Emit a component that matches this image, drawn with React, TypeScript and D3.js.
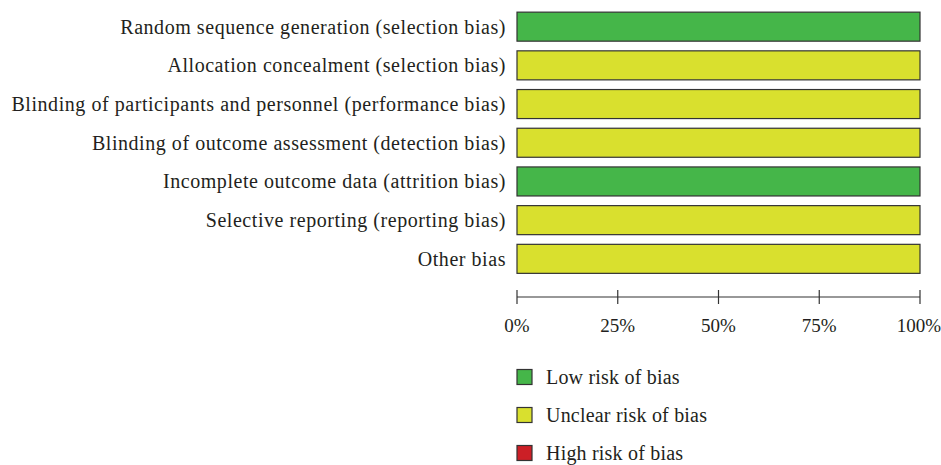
import React from "react";
import * as d3 from "d3";

const domains = [
  "Random sequence generation (selection bias)",
  "Allocation concealment (selection bias)",
  "Blinding of participants and personnel (performance bias)",
  "Blinding of outcome assessment (detection bias)",
  "Incomplete outcome data (attrition bias)",
  "Selective reporting (reporting bias)",
  "Other bias",
];
const lowRisk = [100, 0, 0, 0, 100, 0, 0];
const unclearRisk = [0, 100, 100, 100, 0, 100, 100];
const highRisk = [0, 0, 0, 0, 0, 0, 0];
const tickValues = [0, 25, 50, 75, 100];
const legendLabels = ["Low risk of bias", "Unclear risk of bias", "High risk of bias"];
const colors = ["#45b649", "#d9e02e", "#cc1f26"];

export default function App() {
  const W = 941, H = 465;
  const x = d3.scaleLinear().domain([0, 100]).range([517, 920]);
  const y = d3.scaleBand().domain(domains).range([7.5, 278]).paddingInner(0.25).paddingOuter(0.12);
  const font = "'Liberation Serif', serif";
  const textColor = "#231f20";
  const series = [lowRisk, unclearRisk, highRisk];
  const axisY = 297;
  const fs = 20;
  const ls = 0.55;

  return (
    <svg width={W} height={H} style={{ position: "absolute", left: 0, top: 0 }} fontFamily={font}>
      {domains.map((d, i) => {
        let acc = 0;
        return (
          <g key={d}>
            <text x={506} y={y(d)! + y.bandwidth() / 2} dy="0.35em" textAnchor="end" fontSize={fs} letterSpacing={ls} fill={textColor}>
              {d}
            </text>
            {series.map((s, k) => {
              const v = s[i];
              const x0 = acc;
              acc += v;
              if (v <= 0) return null;
              return (
                <rect key={k} x={x(x0)} y={y(d)} width={x(x0 + v) - x(x0)} height={y.bandwidth()}
                  fill={colors[k]} stroke="#333" strokeWidth={1.2} />
              );
            })}
          </g>
        );
      })}
      <line x1={x(0)} x2={x(100)} y1={axisY} y2={axisY} stroke="#333" strokeWidth={1.2} />
      {tickValues.map((t) => (
        <g key={t}>
          <line x1={x(t)} x2={x(t)} y1={axisY - 7} y2={axisY + 7} stroke="#333" strokeWidth={1.2} />
          <text x={t === 100 ? x(t) - 1 : x(t)} y={325} dy="0.35em" textAnchor="middle" fontSize={19} fill={textColor}>
            {t}%
          </text>
        </g>
      ))}
      {legendLabels.map((l, i) => (
        <g key={l} transform={`translate(517, ${377 + i * 38})`}>
          <rect x={0} y={-7.5} width={15} height={15} fill={colors[i]} stroke="#333" strokeWidth={1.2} />
          <text x={29} y={0} dy="0.35em" fontSize={fs} letterSpacing={0.2} fill={textColor}>{l}</text>
        </g>
      ))}
    </svg>
  );
}
